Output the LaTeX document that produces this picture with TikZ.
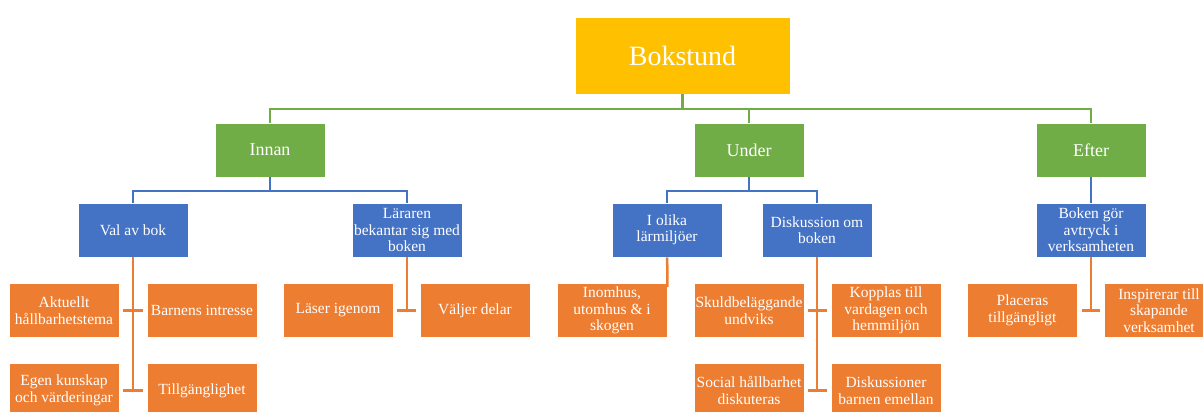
\documentclass[tikz,border=0pt]{standalone}
\usepackage{fontspec}
\setmainfont{Liberation Serif}
\usepackage{tikz}

\definecolor{accgold}{HTML}{FFC000}
\definecolor{accgreen}{HTML}{70AD47}
\definecolor{accblue}{HTML}{4472C4}
\definecolor{accorange}{HTML}{ED7D31}

\tikzset{
  box/.style={draw=white, line width=0.8pt, text=white, align=center,
    minimum width=110pt, minimum height=54pt, inner sep=1pt,
    font=\fontsize{15.5}{16.5}\selectfont},
  topbox/.style={box, fill=accgold, minimum width=215pt, minimum height=77pt,
    font=\fontsize{28}{32}\selectfont},
  phasebox/.style={box, fill=accgreen, font=\fontsize{18}{20}\selectfont},
  stepbox/.style={box, fill=accblue},
  leafbox/.style={box, fill=accorange},
  gline/.style={accgreen, line width=2.5pt},
  bline/.style={accblue, line width=2.5pt},
  oline/.style={accorange, line width=2.5pt},
}

\begin{document}
\begin{tikzpicture}[x=1pt,y=-1pt]
\useasboundingbox (0,0) rectangle (1203,412);

% top
\node[topbox] (bok) at (682.5,55.5) {Bokstund};

% phases
\node[phasebox] (innan) at (270,150) {Innan};
\node[phasebox] (under) at (749,150) {Under};
\node[phasebox] (efter) at (1091,150) {Efter};

\coordinate (gbar) at (682.5,109);
\draw[gline] (bok) -- (gbar);
\draw[gline] (gbar) -| (innan);
\draw[gline] (gbar) -| (under);
\draw[gline] (gbar) -| (efter);

% steps
\node[stepbox] (val) at (133,230) {Val av bok};
\node[stepbox] (larare) at (407,230) {Läraren\\bekantar sig med\\boken};
\node[stepbox] (miljo) at (667,230) {I olika\\lärmiljöer};
\node[stepbox] (disk) at (817,230) {Diskussion om\\boken};
\node[stepbox] (avtryck) at (1091,230) {Boken gör\\avtryck i\\verksamheten};

\coordinate (ibar) at (270,191);
\coordinate (ubar) at (749,191);
\draw[bline] (innan) -- (ibar);
\draw[bline] (ibar) -| (val);
\draw[bline] (ibar) -| (larare);
\draw[bline] (under) -- (ubar);
\draw[bline] (ubar) -| (miljo);
\draw[bline] (ubar) -| (disk);
\draw[bline] (efter) -- (avtryck);

% leaves
\node[leafbox] (aktuellt) at (64,310.5) {Aktuellt\\hållbarhetstema};
\node[leafbox] (barnens) at (202,310.5) {Barnens intresse};
\node[leafbox] (egen) at (64,390.5) {Egen kunskap\\och värderingar};
\node[leafbox] (tillg) at (202,390.5) {Tillgänglighet};

\node[leafbox] (laser) at (338,310.5) {Läser igenom};
\node[leafbox] (valjer) at (475,310.5) {Väljer delar};

\node[leafbox] (inomhus) at (612,310.5) {Inomhus,\\utomhus \& i\\skogen};

\node[leafbox] (skuld) at (749,310.5) {Skuldbeläggande\\undviks};
\node[leafbox] (kopplas) at (886,310.5) {Kopplas till\\vardagen och\\hemmiljön};
\node[leafbox] (social) at (749,390.5) {Social hållbarhet\\diskuteras};
\node[leafbox] (diskbarn) at (886,390.5) {Diskussioner\\barnen emellan};

\node[leafbox] (placeras) at (1022.5,310.5) {Placeras\\tillgängligt};
\node[leafbox] (inspirerar) at (1159,310.5) {Inspirerar till\\skapande\\verksamhet};

\draw[oline] (val) -- (val |- egen);
\draw[oline] ([xshift=4pt]aktuellt.east) -- ([xshift=-4pt]barnens.west);
\draw[oline] ([xshift=4pt]egen.east) -- ([xshift=-4pt]tillg.west);

\draw[oline] (larare) -- (larare |- laser);
\draw[oline] ([xshift=4pt]laser.east) -- ([xshift=-4pt]valjer.west);

\draw[oline] (miljo) -- ([yshift=-4pt]inomhus.north east);

\draw[oline] (disk) -- (disk |- social);
\draw[oline] ([xshift=4pt]skuld.east) -- ([xshift=-4pt]kopplas.west);
\draw[oline] ([xshift=4pt]social.east) -- ([xshift=-4pt]diskbarn.west);

\draw[oline] (avtryck) -- (avtryck |- placeras);
\draw[oline] ([xshift=4pt]placeras.east) -- ([xshift=-4pt]inspirerar.west);
\end{tikzpicture}
\end{document}
